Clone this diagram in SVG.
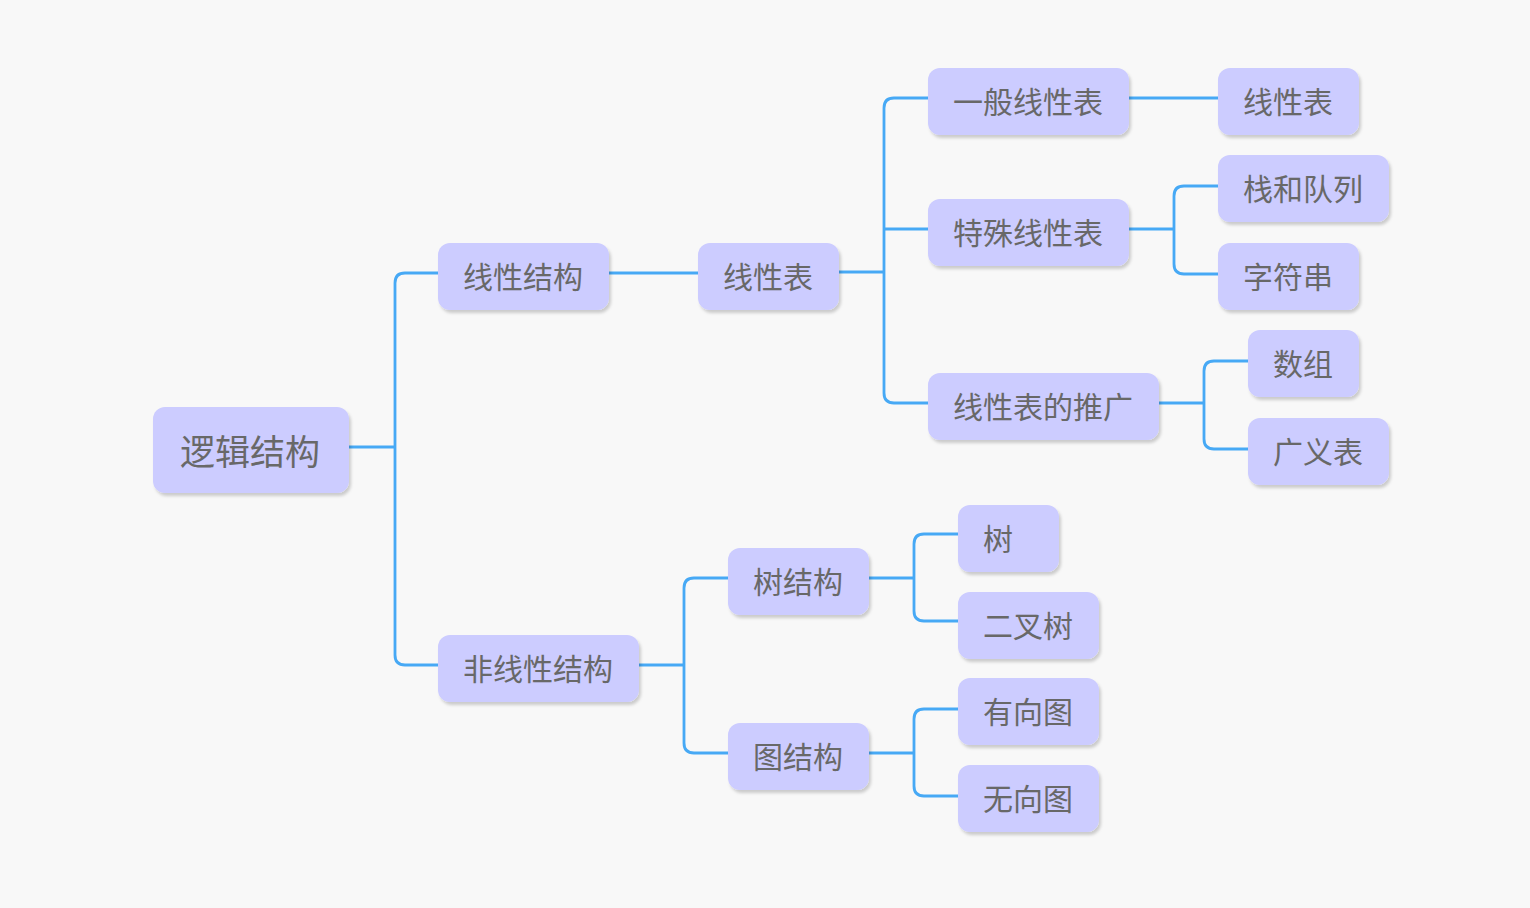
<svg xmlns="http://www.w3.org/2000/svg" width="1530" height="908" viewBox="0 0 1530 908">
<defs>
<filter id="sh" x="-10%" y="-10%" width="130%" height="140%">
<feDropShadow dx="2" dy="3" stdDeviation="1.5" flood-color="#000" flood-opacity="0.18"/>
</filter>
</defs>
<style>
.box{fill:#ccccff;filter:url(#sh)}
.t{font-family:"Noto Sans CJK SC","Noto Sans",sans-serif;font-size:30px;fill:#686868;dominant-baseline:central}
.root{font-size:35px}
.c{fill:none;stroke:#47a9f5;stroke-width:2.8}
</style>
<rect width="1530" height="908" fill="#f8f8f8"/>
<g id="connectors">
<path class="c" d="M349,447 H395"/>
<path class="c" d="M438,273 H405 Q395,273 395,283 V655 Q395,665 405,665 H438"/>
<path class="c" d="M609,273 H698"/>
<path class="c" d="M839,272 H884"/>
<path class="c" d="M928,98 H894 Q884,98 884,108 V393 Q884,403 894,403 H928"/>
<path class="c" d="M884,229 H928"/>
<path class="c" d="M1129,98 H1218"/>
<path class="c" d="M1129,229 H1174"/>
<path class="c" d="M1218,186 H1184 Q1174,186 1174,196 V264 Q1174,274 1184,274 H1218"/>
<path class="c" d="M1159,403 H1204"/>
<path class="c" d="M1248,361 H1214 Q1204,361 1204,371 V439 Q1204,449 1214,449 H1248"/>
<path class="c" d="M639,665 H684"/>
<path class="c" d="M728,578 H694 Q684,578 684,588 V743 Q684,753 694,753 H728"/>
<path class="c" d="M869,578 H914"/>
<path class="c" d="M958,534 H924 Q914,534 914,544 V611 Q914,621 924,621 H958"/>
<path class="c" d="M869,753 H914"/>
<path class="c" d="M958,709 H924 Q914,709 914,719 V786 Q914,796 924,796 H958"/>
</g>
<g id="root"><rect class="box" x="153" y="407" width="196" height="86" rx="12"/><text class="t root" x="180" y="449">逻辑结构</text></g>
<g id="n1"><rect class="box" x="438" y="243" width="171" height="67" rx="12"/><text class="t" x="463" y="275">线性结构</text></g>
<g id="n2"><rect class="box" x="438" y="635" width="201" height="67" rx="12"/><text class="t" x="463" y="667">非线性结构</text></g>
<g id="n3"><rect class="box" x="698" y="243" width="141" height="67" rx="12"/><text class="t" x="723" y="275">线性表</text></g>
<g id="n4"><rect class="box" x="928" y="68" width="201" height="67" rx="12"/><text class="t" x="953" y="100">一般线性表</text></g>
<g id="n5"><rect class="box" x="928" y="199" width="201" height="67" rx="12"/><text class="t" x="953" y="231">特殊线性表</text></g>
<g id="n6"><rect class="box" x="928" y="373" width="231" height="67" rx="12"/><text class="t" x="953" y="405">线性表的推广</text></g>
<g id="n7"><rect class="box" x="1218" y="68" width="141" height="67" rx="12"/><text class="t" x="1243" y="100">线性表</text></g>
<g id="n8"><rect class="box" x="1218" y="155" width="171" height="67" rx="12"/><text class="t" x="1243" y="187">栈和队列</text></g>
<g id="n9"><rect class="box" x="1218" y="243" width="141" height="67" rx="12"/><text class="t" x="1243" y="275">字符串</text></g>
<g id="n10"><rect class="box" x="1248" y="330" width="111" height="67" rx="12"/><text class="t" x="1273" y="362">数组</text></g>
<g id="n11"><rect class="box" x="1248" y="418" width="141" height="67" rx="12"/><text class="t" x="1273" y="450">广义表</text></g>
<g id="n12"><rect class="box" x="728" y="548" width="141" height="67" rx="12"/><text class="t" x="753" y="580">树结构</text></g>
<g id="n13"><rect class="box" x="728" y="723" width="141" height="67" rx="12"/><text class="t" x="753" y="755">图结构</text></g>
<g id="n14"><rect class="box" x="958" y="505" width="101" height="67" rx="12"/><text class="t" x="983" y="537">树</text></g>
<g id="n15"><rect class="box" x="958" y="592" width="141" height="67" rx="12"/><text class="t" x="983" y="624">二叉树</text></g>
<g id="n16"><rect class="box" x="958" y="678" width="141" height="67" rx="12"/><text class="t" x="983" y="710">有向图</text></g>
<g id="n17"><rect class="box" x="958" y="765" width="141" height="67" rx="12"/><text class="t" x="983" y="797">无向图</text></g>
</svg>
